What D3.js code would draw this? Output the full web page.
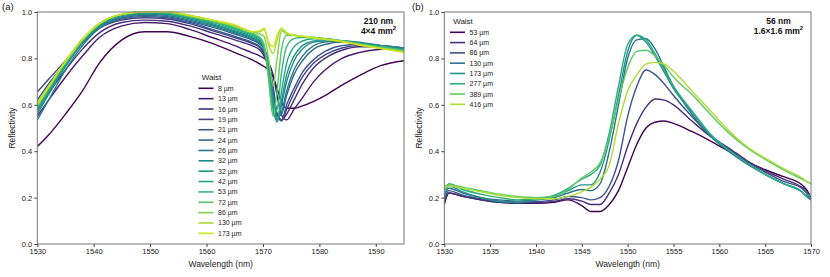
<!DOCTYPE html>
<html>
<head>
<meta charset="utf-8">
<script src="https://cdn.jsdelivr.net/npm/d3@7"></script>
<style>
  body { margin: 0; background: #fff; }
  svg { font-family: "Liberation Sans", Arial, sans-serif; }
  .tick text { font-size: 7.5px; fill: #222; }
  .tick line { stroke: #444; }
  .domain { stroke: none; }
</style>
</head>
<body>
<div id="chart"></div>
<script>
// panel (a): 210 nm, 4x4 mm2
const wlA = [1530, 1532, 1535, 1538, 1541, 1545, 1549, 1553, 1557, 1561, 1565,
  1568, 1569.5, 1570.2, 1571, 1571.8, 1572.5, 1573.3, 1574.2, 1575.5, 1577, 1579, 1581, 1584, 1587, 1591, 1595];
const waistA = ["8 µm", "13 µm", "16 µm", "19 µm", "21 µm", "24 µm", "26 µm", "32 µm", "32 µm",
  "42 µm", "53 µm", "72 µm", "86 µm", "130 µm", "173 µm"];
const rA8 = [0.42,0.47,0.56,0.66,0.78,0.88,0.915,0.915,0.895,0.865,0.825, 0.795,0.775,0.765,0.75,0.72,0.67,0.61,0.585,0.585,0.595,0.615,0.64,0.685,0.725,0.77,0.79];
const rA13 = [0.55,0.62,0.72,0.81,0.89,0.94,0.955,0.95,0.925,0.89,0.855, 0.825,0.81,0.80,0.78,0.73,0.64,0.555,0.535,0.58,0.63,0.70,0.75,0.80,0.825,0.84,0.845];
const rA16 = [0.58,0.65,0.75,0.84,0.91,0.955,0.965,0.96,0.94,0.91,0.88, 0.855,0.835,0.81,0.76,0.66,0.56,0.535,0.56,0.62,0.69,0.76,0.80,0.835,0.85,0.85,0.845];
const rA19 = [0.655,0.71,0.79,0.87,0.93,0.965,0.975,0.97,0.95,0.92,0.89, 0.865,0.845,0.82,0.77,0.67,0.56,0.53,0.58,0.65,0.72,0.78,0.815,0.845,0.855,0.85,0.845];
const rA21 = [0.62,0.69,0.78,0.865,0.93,0.97,0.98,0.975,0.955,0.925,0.895, 0.87,0.85,0.83,0.78,0.68,0.56,0.535,0.60,0.67,0.74,0.795,0.83,0.855,0.86,0.855,0.845];
const rA24 = [0.60,0.68,0.78,0.87,0.935,0.975,0.985,0.98,0.96,0.935,0.905, 0.88,0.86,0.84,0.78,0.66,0.55,0.56,0.64,0.73,0.79,0.84,0.86,0.87,0.865,0.855,0.845];
const rA26 = [0.535,0.62,0.75,0.855,0.93,0.975,0.99,0.985,0.965,0.94,0.91, 0.885,0.865,0.845,0.78,0.64,0.54,0.57,0.66,0.75,0.81,0.855,0.87,0.875,0.87,0.855,0.845];
const rA32a = [0.56,0.645,0.765,0.865,0.935,0.98,0.99,0.99,0.97,0.945,0.915, 0.89,0.87,0.845,0.77,0.62,0.53,0.60,0.70,0.79,0.84,0.87,0.875,0.875,0.865,0.855,0.84];
const rA32b = [0.57,0.655,0.77,0.87,0.94,0.985,0.995,0.99,0.975,0.95,0.92, 0.895,0.875,0.845,0.76,0.60,0.525,0.62,0.73,0.81,0.855,0.875,0.88,0.875,0.865,0.85,0.84];
const rA42 = [0.58,0.66,0.775,0.875,0.945,0.99,1.0,0.995,0.975,0.955,0.925, 0.9,0.88,0.845,0.74,0.58,0.53,0.66,0.78,0.85,0.875,0.885,0.885,0.875,0.865,0.85,0.835];
const rA53 = [0.59,0.67,0.78,0.88,0.95,0.99,1.0,0.995,0.98,0.96,0.93, 0.905,0.885,0.85,0.72,0.56,0.58,0.74,0.85,0.885,0.89,0.89,0.885,0.875,0.865,0.85,0.835];
const rA72 = [0.60,0.675,0.785,0.88,0.95,0.99,1.0,1.0,0.98,0.96,0.935, 0.91,0.89,0.86,0.71,0.55,0.66,0.84,0.9,0.9,0.895,0.89,0.885,0.875,0.862,0.848,0.832];
const rA86 = [0.60,0.675,0.785,0.88,0.95,0.99,1.0,1.0,0.985,0.965,0.94, 0.915,0.905,0.895,0.80,0.68,0.80,0.92,0.905,0.9,0.895,0.89,0.885,0.875,0.86,0.845,0.83];
const rA130 = [0.61,0.68,0.79,0.885,0.95,0.99,1.0,1.0,0.985,0.965,0.94, 0.915,0.915,0.925,0.86,0.82,0.88,0.93,0.91,0.9,0.895,0.89,0.883,0.873,0.86,0.843,0.828];
const rA173 = [0.60,0.675,0.785,0.88,0.95,0.99,1.0,1.0,0.985,0.965,0.945, 0.915,0.92,0.93,0.87,0.85,0.9,0.93,0.91,0.9,0.895,0.888,0.882,0.872,0.858,0.842,0.826];

// panel (b): 56 nm, 1.6x1.6 mm2
const wlB = [1530, 1530.5, 1532, 1534, 1536, 1538, 1540, 1542, 1543.5, 1545, 1546, 1547, 1548, 1549, 1550,
  1551, 1552, 1553, 1554, 1555, 1557, 1559, 1561, 1563, 1565, 1567, 1569, 1569.5, 1570];
const waistB = ["53 µm", "64 µm", "86 µm", "130 µm", "173 µm", "277 µm", "389 µm", "416 µm"];
const rB53 = [0.17,0.22,0.205,0.19,0.18,0.175,0.175,0.18,0.19,0.165,0.14,0.14,0.17,0.23,0.33,0.43,0.50,0.525,0.53,0.52,0.485,0.445,0.40,0.355,0.32,0.29,0.255,0.235,0.20];
const rB64 = [0.18,0.22,0.205,0.19,0.18,0.178,0.178,0.183,0.195,0.185,0.17,0.17,0.22,0.30,0.42,0.52,0.59,0.625,0.62,0.60,0.53,0.465,0.415,0.36,0.315,0.28,0.245,0.23,0.20];
const rB86 = [0.19,0.23,0.21,0.195,0.185,0.18,0.182,0.19,0.205,0.2,0.19,0.2,0.25,0.36,0.55,0.68,0.75,0.73,0.69,0.64,0.55,0.47,0.41,0.355,0.31,0.27,0.24,0.22,0.19];
const rB130 = [0.20,0.24,0.22,0.20,0.19,0.185,0.19,0.20,0.22,0.235,0.23,0.26,0.40,0.60,0.80,0.88,0.885,0.84,0.76,0.68,0.56,0.465,0.40,0.345,0.30,0.26,0.225,0.205,0.19];
const rB173 = [0.21,0.25,0.225,0.20,0.183,0.178,0.19,0.205,0.23,0.255,0.255,0.31,0.45,0.64,0.83,0.90,0.87,0.81,0.74,0.67,0.57,0.47,0.405,0.35,0.30,0.26,0.225,0.205,0.20];
const rB277 = [0.23,0.26,0.235,0.215,0.20,0.19,0.195,0.21,0.24,0.28,0.30,0.34,0.48,0.68,0.86,0.90,0.88,0.82,0.75,0.68,0.575,0.475,0.405,0.35,0.30,0.26,0.225,0.21,0.21];
const rB389 = [0.25,0.255,0.245,0.23,0.215,0.205,0.2,0.205,0.235,0.285,0.31,0.35,0.46,0.62,0.76,0.83,0.835,0.81,0.77,0.72,0.645,0.56,0.48,0.415,0.365,0.32,0.28,0.27,0.26];
const rB416 = [0.24,0.25,0.24,0.225,0.21,0.2,0.195,0.195,0.205,0.225,0.245,0.28,0.34,0.52,0.66,0.73,0.775,0.783,0.775,0.745,0.66,0.575,0.49,0.42,0.37,0.325,0.285,0.27,0.26];

const yTicks = [0, 0.2, 0.4, 0.6, 0.8, 1.0];
const xTicksA = [1530, 1540, 1550, 1560, 1570, 1580, 1590];
const xTicksB = [1530, 1535, 1540, 1545, 1550, 1555, 1560, 1565, 1570];

const W = 830, H = 277;
const svg = d3.select("#chart").append("svg").attr("width", W).attr("height", H);

const drawPanel = (opt) => {
  const x = d3.scaleLinear().domain(opt.xDomain).range([opt.left, opt.right]);
  const y = d3.scaleLinear().domain([0, 1]).range([244, 12]);
  const g = svg.append("g");
  const n = opt.series.length;
  const color = (i) => d3.interpolateViridis(i / n);

  g.append("clipPath").attr("id", "clip" + opt.id)
    .append("rect").attr("x", opt.left).attr("y", 11).attr("width", opt.right - opt.left).attr("height", 234);

  const line = d3.line().x(d => x(d[0])).y(d => y(d[1])).curve(d3.curveMonotoneX);
  g.append("g").attr("clip-path", `url(#clip${opt.id})`)
    .selectAll("path").data(opt.series).join("path")
    .attr("d", d => line(opt.wl.map((w, k) => [w, d[k]])))
    .attr("fill", "none")
    .attr("stroke", (d, i) => color(i))
    .attr("stroke-width", 1.4)
    .attr("stroke-linejoin", "round");

  // frame
  g.append("rect").attr("x", opt.left).attr("y", 12)
    .attr("width", opt.right - opt.left).attr("height", 232)
    .attr("fill", "none").attr("stroke", "#777").attr("stroke-width", 1);

  g.append("g").attr("transform", "translate(0,244)")
    .call(d3.axisBottom(x).tickValues(opt.xTicks).tickFormat(d3.format("d")).tickSize(3).tickPadding(2));
  g.append("g").attr("transform", `translate(${opt.left},0)`)
    .call(d3.axisLeft(y).tickValues(yTicks).tickFormat(d3.format(".1f")).tickSize(3).tickPadding(2));

  g.append("text").attr("x", (opt.left + opt.right) / 2).attr("y", 266.5)
    .attr("text-anchor", "middle").attr("font-size", 8.5).attr("fill", "#222")
    .text("Wavelength (nm)");
  g.append("text").attr("transform", `translate(${opt.left - 22},128) rotate(-90)`)
    .attr("text-anchor", "middle").attr("font-size", 8.5).attr("fill", "#222")
    .text("Reflectivity");

  g.append("text").attr("x", opt.tagX).attr("y", 10).attr("font-size", 9.5).attr("fill", "#222").text(opt.tag);

  // annotation
  g.append("text").attr("x", opt.noteX).attr("y", 23.5).attr("text-anchor", "middle")
    .attr("font-size", 8.5).attr("font-weight", "bold").attr("fill", "#111").text(opt.note1);
  const t2 = g.append("text").attr("x", opt.noteX).attr("y", 33.5).attr("text-anchor", "middle")
    .attr("font-size", 8.5).attr("font-weight", "bold").attr("fill", "#111");
  t2.append("tspan").text(opt.note2);
  t2.append("tspan").attr("dy", -3.5).attr("font-size", 6).text("2");

  // legend
  const lg = g.append("g");
  lg.append("text").attr("x", opt.legX + 13).attr("y", opt.legY - 8).attr("text-anchor", "middle")
    .attr("font-size", 8).attr("fill", "#222").text("Waist");
  const items = lg.selectAll("g.item").data(opt.labels).join("g").attr("class", "item")
    .attr("transform", (d, i) => `translate(${opt.legX},${opt.legY + i * opt.legStep})`);
  items.append("line").attr("x1", 0).attr("x2", 15).attr("y1", 0).attr("y2", 0)
    .attr("stroke", (d, i) => color(i)).attr("stroke-width", 1.6);
  items.append("text").attr("x", 19.5).attr("y", 2.5).attr("font-size", 7).attr("fill", "#222").text(d => d);
};

drawPanel({
  id: "a", tag: "(a)", tagX: 2, left: 37.3, right: 404, xDomain: [1530, 1595],
  xTicks: xTicksA, wl: wlA, labels: waistA,
  series: [rA8, rA13, rA16, rA19, rA21, rA24, rA26, rA32a, rA32b, rA42, rA53, rA72, rA86, rA130, rA173],
  note1: "210 nm", note2: "4×4 mm", noteX: 378.5,
  legX: 198.5, legY: 88.3, legStep: 10.36
});

drawPanel({
  id: "b", tag: "(b)", tagX: 412, left: 444.3, right: 811, xDomain: [1530, 1570],
  xTicks: xTicksB, wl: wlB, labels: waistB,
  series: [rB53, rB64, rB86, rB130, rB173, rB277, rB389, rB416],
  note1: "56 nm", note2: "1.6×1.6 mm", noteX: 778.5,
  legX: 450, legY: 32.3, legStep: 10.29
});
</script>
</body>
</html>
